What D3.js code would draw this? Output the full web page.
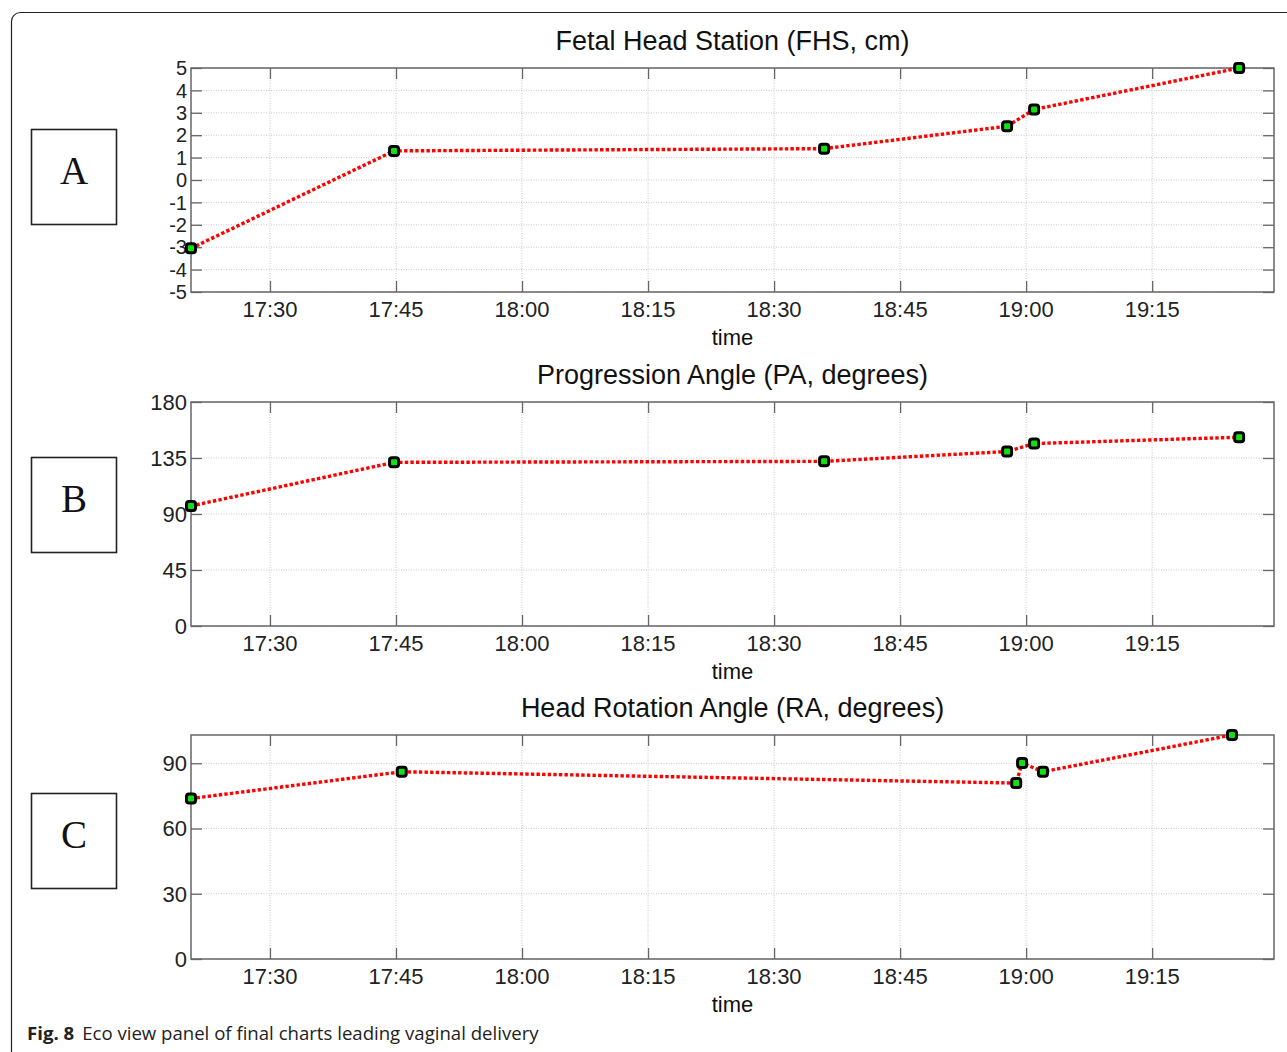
<!DOCTYPE html>
<html>
<head>
<meta charset="utf-8">
<script src="https://cdnjs.cloudflare.com/ajax/libs/d3/7.8.5/d3.min.js"></script>
<style>
    body { margin: 0; background: white; }
    #wrapper svg { display: block; }
</style>
</head>
<body>
<div id="wrapper"></div>
<script>
// readings taken off the eco view panel
const panelLetters = ["A", "B", "C"]
const panelTitles = [
    "Fetal Head Station (FHS, cm)",
    "Progression Angle (PA, degrees)",
    "Head Rotation Angle (RA, degrees)"
]

const fhsTimes = ["17:20:36", "17:44:46", "18:35:57", "18:57:44", "19:00:57", "19:25:21"]
const fhsValues = [-3.05, 1.3, 1.4, 2.4, 3.15, 5.0]

const paTimes = ["17:20:36", "17:44:46", "18:35:57", "18:57:44", "19:00:57", "19:25:21"]
const paValues = [96.5, 131.5, 132.3, 140.2, 146.6, 151.7]

const raTimes = ["17:20:36", "17:45:41", "18:58:49", "18:59:31", "19:02:00", "19:24:30"]
const raValues = [73.8, 86.1, 80.9, 90.1, 86.1, 103]

const timeDomain = ["17:20:36", "19:29:30"]
const timeTicks = ["17:30", "17:45", "18:00", "18:15", "18:30", "18:45", "19:00", "19:15"]

const fhsTicks = [-5, -4, -3, -2, -1, 0, 1, 2, 3, 4, 5]
const paTicks = [0, 45, 90, 135, 180]
const raTicks = [0, 30, 60, 90]

const yDomains = [[-5, 5], [0, 180], [0, 103]]

const captionBold = "Fig. 8"
const captionText = "Eco view panel of final charts leading vaginal delivery"

function drawChart() {
    const parseTime = s => d3.timeParse("%H:%M:%S")(s.length == 5 ? s + ":00" : s)

    const series = [
        { times: fhsTimes, values: fhsValues, ticks: fhsTicks },
        { times: paTimes, values: paValues, ticks: paTicks },
        { times: raTimes, values: raValues, ticks: raTicks },
    ]

    let dimensions = {
        width: 1287,
        height: 1052,
        plotLeft: 191,
        plotRight: 1274,
        panelTops: [68, 402, 735],
        panelHeight: 224,
        boxTops: [129, 457, 793],
        yTickSizes: [20, 22, 22],
    }

    const wrapper = d3.select("#wrapper")
        .append("svg")
        .attr("width", dimensions.width)
        .attr("height", dimensions.height)
        .style("font-family", "'Liberation Sans', Arial, sans-serif")

    // outer figure frame, runs off the right and bottom edges
    wrapper.append("rect")
        .attr("x", 11.5)
        .attr("y", 12.5)
        .attr("width", 1300)
        .attr("height", 1060)
        .attr("rx", 9)
        .attr("fill", "none")
        .attr("stroke", "#222")
        .attr("stroke-width", 1.2)

    const xScale = d3.scaleTime()
        .domain(timeDomain.map(parseTime))
        .range([dimensions.plotLeft, dimensions.plotRight])

    const xTickValues = timeTicks.map(parseTime)
    const tickLen = 11
    const axisColor = "#666"

    series.forEach((s, i) => {
        const top = dimensions.panelTops[i]
        const bottom = top + dimensions.panelHeight
        const boxTop = dimensions.boxTops[i]

        const yScale = d3.scaleLinear()
            .domain(yDomains[i])
            .range([bottom, top])

        const panel = wrapper.append("g")

        // letter box on the left
        panel.append("rect")
            .attr("x", 31.5)
            .attr("y", boxTop + 0.5)
            .attr("width", 85)
            .attr("height", 95)
            .attr("fill", "none")
            .attr("stroke", "#222")
            .attr("stroke-width", 1.6)

        panel.append("text")
            .attr("x", 74)
            .attr("y", boxTop + 55)
            .attr("text-anchor", "middle")
            .style("font-family", "'Liberation Serif', 'Times New Roman', serif")
            .style("font-size", "39px")
            .attr("fill", "#111")
            .text(panelLetters[i])

        // grid
        panel.append("g")
            .selectAll("line")
            .data(xTickValues)
            .join("line")
            .attr("x1", d => xScale(d))
            .attr("x2", d => xScale(d))
            .attr("y1", top)
            .attr("y2", bottom)
            .attr("stroke", "#c8c8c8")
            .attr("stroke-width", 1)
            .attr("stroke-dasharray", "1,1.5")

        panel.append("g")
            .selectAll("line")
            .data(s.ticks)
            .join("line")
            .attr("x1", dimensions.plotLeft)
            .attr("x2", dimensions.plotRight)
            .attr("y1", d => yScale(d))
            .attr("y2", d => yScale(d))
            .attr("stroke", "#c8c8c8")
            .attr("stroke-width", 1)
            .attr("stroke-dasharray", "1,1.5")

        // axes with inward ticks on all four sides
        const xAxisBottom = panel.append("g")
            .attr("transform", `translate(0, ${bottom})`)
            .call(d3.axisTop(xScale)
                .tickValues(xTickValues)
                .tickSize(tickLen)
                .tickFormat(""))
        const xAxisTop = panel.append("g")
            .attr("transform", `translate(0, ${top})`)
            .call(d3.axisBottom(xScale)
                .tickValues(xTickValues)
                .tickSize(tickLen)
                .tickFormat(""))
        const yAxisLeft = panel.append("g")
            .attr("transform", `translate(${dimensions.plotLeft}, 0)`)
            .call(d3.axisRight(yScale)
                .tickValues(s.ticks)
                .tickSize(tickLen)
                .tickFormat(""))
        const yAxisRight = panel.append("g")
            .attr("transform", `translate(${dimensions.plotRight}, 0)`)
            .call(d3.axisLeft(yScale)
                .tickValues(s.ticks)
                .tickSize(tickLen)
                .tickFormat(""))

        ;[xAxisBottom, xAxisTop, yAxisLeft, yAxisRight].forEach(ax => {
            ax.select(".domain").remove()
            ax.selectAll("line").attr("stroke", axisColor).attr("stroke-width", 1.3)
        })

        // box
        panel.append("rect")
            .attr("x", dimensions.plotLeft)
            .attr("y", top)
            .attr("width", dimensions.plotRight - dimensions.plotLeft)
            .attr("height", dimensions.panelHeight)
            .attr("fill", "none")
            .attr("stroke", axisColor)
            .attr("stroke-width", 1.5)

        // tick labels
        panel.append("g")
            .selectAll("text")
            .data(xTickValues)
            .join("text")
            .attr("x", d => xScale(d))
            .attr("y", bottom + 25)
            .attr("text-anchor", "middle")
            .style("font-size", "22px")
            .attr("fill", "#222")
            .text(d3.timeFormat("%H:%M"))

        panel.append("g")
            .selectAll("text")
            .data(s.ticks)
            .join("text")
            .attr("x", dimensions.plotLeft - 4)
            .attr("y", d => yScale(d))
            .attr("dy", "0.36em")
            .attr("text-anchor", "end")
            .style("font-size", dimensions.yTickSizes[i] + "px")
            .attr("fill", "#222")
            .text(d => d)

        panel.append("text")
            .attr("x", (dimensions.plotLeft + dimensions.plotRight) / 2)
            .attr("y", bottom + 53)
            .attr("text-anchor", "middle")
            .style("font-size", "22px")
            .attr("fill", "#111")
            .text("time")

        panel.append("text")
            .attr("x", (dimensions.plotLeft + dimensions.plotRight) / 2)
            .attr("y", top - 18)
            .attr("text-anchor", "middle")
            .style("font-size", "27px")
            .attr("fill", "#111")
            .text(panelTitles[i])

        // data
        const points = s.times.map((t, j) => ({ t: parseTime(t), v: s.values[j] }))

        const lineGenerator = d3.line()
            .x(d => xScale(d.t))
            .y(d => yScale(d.v))

        panel.append("path")
            .attr("d", lineGenerator(points))
            .attr("fill", "none")
            .attr("stroke", "#ff0000")
            .attr("stroke-width", 3.4)
            .attr("stroke-dasharray", "3.4,2.2")

        panel.append("g")
            .selectAll("rect")
            .data(points)
            .join("rect")
            .attr("x", d => xScale(d.t) - 4.5)
            .attr("y", d => yScale(d.v) - 4.5)
            .attr("width", 9)
            .attr("height", 9)
            .attr("rx", 2.5)
            .attr("fill", "#12e012")
            .attr("stroke", "#000")
            .attr("stroke-width", 3)
    })

    // caption
    const caption = wrapper.append("text")
        .attr("x", 27)
        .attr("y", 1040)
        .style("font-family", "'Open Sans', 'Noto Sans', sans-serif")
        .style("font-size", "18.6px")
        .attr("fill", "#222")
    caption.append("tspan")
        .style("font-weight", "bold")
        .text(captionBold)
    caption.append("tspan")
        .attr("dx", 8)
        .text(captionText)
}

drawChart()
</script>
</body>
</html>
